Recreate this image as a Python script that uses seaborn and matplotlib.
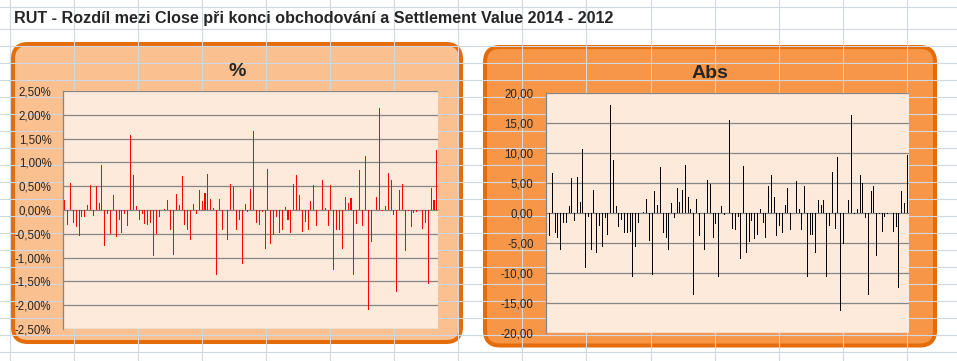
import matplotlib
matplotlib.use("Agg")
import matplotlib.pyplot as plt
import seaborn as sns
import pandas as pd
from matplotlib.patches import FancyBboxPatch

# rozdil v bodech (Abs) - 131 expiraci, 2014 -> 2012
abs_vals = [2.2, -3.9, 6.7, -3.4, -4.2, -6.2, -1.6, -1.6, 1.2, 5.9,
            -1.4, 6.1, 1.9, 10.7, -9.1, -0.7, -6.2, 3.9, -6.7, -2.2,
            -5.6, -0.9, -3.7, 18.1, 8.8, 1.1, -2.4, -1.1, -3.4, -3.4,
            -3.1, -10.7, -5.7, -1.6, 0.0, 0.2, 2.4, -4.7, -10.4, 3.6,
            1.4, 7.7, -3.4, -4.2, -6.2, 1.6, -0.9, 4.2, 1.9, 3.9,
            8.1, 2.6, 0.7, -13.7, 2.4, -3.9, 0.0, -6.1, 5.6, 4.9,
            -4.2, -1.9, -10.7, 1.2, -0.4, 4.2, 15.6, -2.6, -2.9, -0.6,
            -7.6, 7.9, -6.6, -4.9, -1.4, -4.4, -3.7, 0.6, -1.7, -4.2,
            4.6, 6.4, 2.7, -3.9, -2.1, -3.4, 1.4, 4.2, -2.9, 0.0,
            5.4, 0.6, -2.9, 4.6, -10.6, -3.6, -3.6, -6.6, 2.2, 1.4,
            2.2, -10.6, -2.2, 6.9, -2.7, 9.4, -16.4, -5.1, 0.0, 2.2,
            16.4, -0.2, 0.7, 6.4, 5.1, -0.9, -13.7, 3.6, 4.6, -7.1,
            -0.2, -3.1, -0.6, -0.2, 0.0, -3.2, -2.4, -12.6, 3.7, 1.7,
            9.7]

# rozdil v procentech (%)
pct_vals = [0.20, -0.32, 0.57, -0.28, -0.36, -0.55, -0.15, -0.15, 0.11, 0.53,
            -0.13, 0.51, 0.15, 0.95, -0.76, -0.08, -0.51, 0.32, -0.57, -0.20,
            -0.49, -0.09, -0.34, 1.58, 0.74, 0.09, -0.22, -0.09, -0.30, -0.32,
            -0.28, -0.97, -0.51, -0.15, 0.0, 0.02, 0.20, -0.43, -0.95, 0.34,
            0.11, 0.72, -0.32, -0.41, -0.62, 0.13, -0.09, 0.41, 0.18, 0.36,
            0.76, 0.24, 0.05, -1.37, 0.24, -0.41, 0.0, -0.64, 0.55, 0.49,
            -0.43, -0.20, -1.14, 0.13, -0.05, 0.45, 1.67, -0.28, -0.32, -0.05,
            -0.81, 0.87, -0.72, -0.53, -0.15, -0.49, -0.41, 0.07, -0.20, -0.49,
            0.55, 0.74, 0.32, -0.47, -0.26, -0.43, 0.18, 0.53, -0.34, 0.0,
            0.64, 0.05, -0.34, 0.53, -1.25, -0.41, -0.43, -0.81, 0.28, 0.15,
            0.26, -1.37, -0.30, 0.85, -0.34, 1.14, -2.11, -0.68, 0.0, 0.28,
            2.15, -0.03, 0.09, 0.78, 0.64, -0.11, -1.73, 0.43, 0.55, -0.87,
            -0.03, -0.36, -0.07, -0.05, 0.0, -0.39, -0.28, -1.55, 0.47, 0.22,
            1.27]

pct_ticks = [-2.5, -2.0, -1.5, -1.0, -0.5, 0.0, 0.5, 1.0, 1.5, 2.0, 2.5]
pct_labels = ["-2,50%", "-2,00%", "-1,50%", "-1,00%", "-0,50%", "0,00%",
              "0,50%", "1,00%", "1,50%", "2,00%", "2,50%"]
abs_ticks = [-20, -15, -10, -5, 0, 5, 10, 15, 20]
abs_labels = ["-20,00", "-15,00", "-10,00", "-5,00", "0,00",
              "5,00", "10,00", "15,00", "20,00"]

title = "RUT - Rozdíl mezi Close při konci obchodování a Settlement Value 2014 - 2012"

sns.set_style("white")
plt.rcParams["font.family"] = ["Liberation Sans", "DejaVu Sans"]

W, H = 957, 361
fig = plt.figure(figsize=(W / 100, H / 100), dpi=100)

# pozadi - mrizka listu Excelu
bg = fig.add_axes([0, 0, 1, 1])
bg.set_xlim(0, W)
bg.set_ylim(H, 0)
bg.axis("off")
grid_c = "#D0D7E5"
bg.axhline(7.3, color=grid_c, lw=0.8)
for k in range(20):
    bg.axhline(28.6 + 17.0 * k, color=grid_c, lw=0.8)
for k in range(15):
    bg.axvline(10 + 64.05 * k, color=grid_c, lw=0.8)

bg.text(14, 18, title, fontsize=11.6, fontweight="bold", va="center", ha="left")

# ramecky grafu
panels = [(13, 44, 461, 342, "#FAC090"), (485, 47, 935, 345.5, "#F79646")]
for x0, y0, x1, y1, fc in panels:
    bg.add_patch(FancyBboxPatch((x0, y0), x1 - x0, y1 - y0,
                                boxstyle="round,pad=0,rounding_size=15",
                                fc=fc, ec="#E46C0A", lw=2.9))

bg.text(237, 72, "%", fontsize=14, fontweight="bold", ha="center", va="center")
bg.text(710, 73, "Abs", fontsize=14, fontweight="bold", ha="center", va="center")


def make_ax(x0, y0, x1, y1):
    return fig.add_axes([x0 / W, 1 - y1 / H, (x1 - x0) / W, (y1 - y0) / H])


def draw(ax, vals, color, ticks, labels):
    df = pd.DataFrame({"i": range(len(vals)), "v": vals})
    ax.set_facecolor("#FDEADA")
    ax.set_axisbelow(True)
    ax.yaxis.grid(True, color="#868686", lw=0.9)
    sns.barplot(data=df, x="i", y="v", color=color, width=0.36,
                linewidth=0, saturation=1, ax=ax)
    for p in ax.patches:
        p.set_antialiased(False)
    ax.set_xlim(-0.5, len(vals) - 0.5)
    ax.set_ylim(ticks[0], ticks[-1])
    ax.set_yticks(ticks)
    ax.set_yticklabels(labels)
    ax.set_xticks([])
    ax.set_xlabel("")
    ax.set_ylabel("")
    for s in ["top", "right", "bottom"]:
        ax.spines[s].set_visible(False)
    ax.spines["left"].set_color("#868686")
    ax.spines["left"].set_linewidth(0.9)
    ax.tick_params(axis="y", direction="out", length=3, width=0.9,
                   color="#868686", pad=5.5, labelsize=8.3)


ax1 = make_ax(63.3, 91.0, 438.3, 329.0)
draw(ax1, pct_vals, "#FF0000", pct_ticks, pct_labels)

ax2 = make_ax(545.5, 93.3, 908.5, 332.8)
draw(ax2, abs_vals, "#000000", abs_ticks, abs_labels)

fig.savefig("out.png", dpi=100)
